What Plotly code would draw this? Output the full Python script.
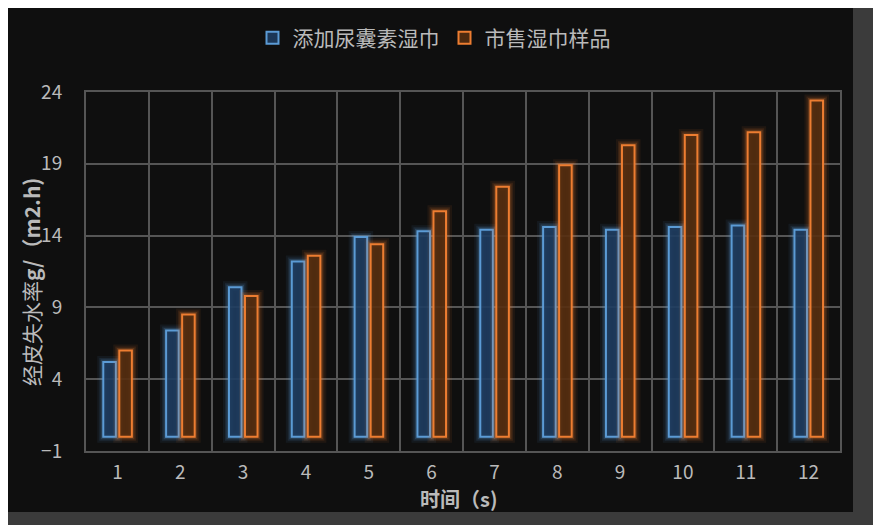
import plotly.graph_objects as go

categories = [1, 2, 3, 4, 5, 6, 7, 8, 9, 10, 11, 12]
series_names = ["添加尿囊素湿巾", "市售湿巾样品"]
allantoin_wipe = [5.2, 7.4, 10.4, 12.2, 13.9, 14.3, 14.4, 14.6, 14.4, 14.6, 14.7, 14.4]
market_wipe = [6.0, 8.5, 9.8, 12.6, 13.4, 15.7, 17.4, 18.9, 20.3, 21.0, 21.2, 23.4]
y_ticks = [-1, 4, 9, 14, 19, 24]
x_title = "<b>时间（s)</b>"
y_title = "经皮失水率<b>g/（m2.h)</b>"

FONT = "Noto Sans CJK SC"
TXT = "#bababa"
GRID = "#555555"

# page has an 8px body margin; figure coords = screen - 8
L, T, PW, PH = 78, 84, 754, 359
FW, FH = 881, 525

fig = go.Figure()

styles = [
    (allantoin_wipe, "#5b9bd5", "rgba(91,155,213,", "rgba(30,60,95,0.9)", -0.225),
    (market_wipe, "#ed7d31", "rgba(237,125,49,", "rgba(85,45,15,0.9)", 0.03),
]
W = 0.2
for (vals, line_c, glow_base, fill_c, off), name in zip(styles, series_names):
    for lw, a in [(12, 0.08), (8, 0.12), (5, 0.2)]:
        fig.add_trace(go.Bar(
            x=categories, y=vals, base=0, width=W, offset=off,
            marker=dict(color="rgba(0,0,0,0)", line=dict(color=glow_base + f"{a})", width=lw)),
            showlegend=False, hoverinfo="skip",
        ))
    fig.add_trace(go.Bar(
        x=categories, y=vals, base=0, width=W, offset=off, name=name,
        marker=dict(color=fill_c, line=dict(color=line_c, width=2)),
    ))

def px_x(x):
    return (x - L) / PW

def px_y(y):
    return (T + PH - y) / PH

fig.update_layout(
    width=FW, height=FH,
    margin=dict(l=L, r=FW - L - PW, t=T, b=FH - T - PH, autoexpand=False),
    barmode="overlay",
    paper_bgcolor="#3b3b3b",
    plot_bgcolor="#0f0f0f",
    font=dict(family=FONT, color=TXT, size=19),
    legend=dict(orientation="h", x=px_x(426), xanchor="center", y=px_y(30), yanchor="middle",
                font=dict(size=21, color=TXT), bgcolor="rgba(0,0,0,0)",
                itemwidth=30, traceorder="normal"),
    shapes=[dict(type="rect", xref="paper", yref="paper",
                 x0=px_x(0), x1=px_x(845), y0=px_y(504), y1=px_y(0),
                 fillcolor="#0f0f0f", line=dict(width=0), layer="below")],
    annotations=[
        dict(text=x_title, xref="paper", yref="paper", x=px_x(450), y=px_y(490),
             xanchor="center", yanchor="middle", showarrow=False,
             font=dict(size=20, color=TXT)),
        dict(text=y_title, xref="paper", yref="paper", x=px_x(23), y=px_y(274),
             xanchor="center", yanchor="middle", showarrow=False, textangle=-90,
             font=dict(size=21, color=TXT)),
    ],
)

fig.update_xaxes(
    range=[0.5, 12.5], tickvals=categories, ticktext=[str(c) for c in categories],
    showgrid=False, zeroline=False,
    showline=True, mirror=True, linecolor=GRID, linewidth=2,
    minor=dict(tick0=0.5, dtick=1, showgrid=True, gridcolor=GRID, gridwidth=2),
    tickfont=dict(size=19, color=TXT), ticks="", ticklabelstandoff=3,
)
fig.update_yaxes(
    range=[-1, 24], tickvals=y_ticks,
    showgrid=True, gridcolor=GRID, gridwidth=2, zeroline=False,
    showline=True, mirror=True, linecolor=GRID, linewidth=2,
    tickfont=dict(size=19, color=TXT), ticks="", ticklabelstandoff=18,
)

fig.write_html("out.html")
